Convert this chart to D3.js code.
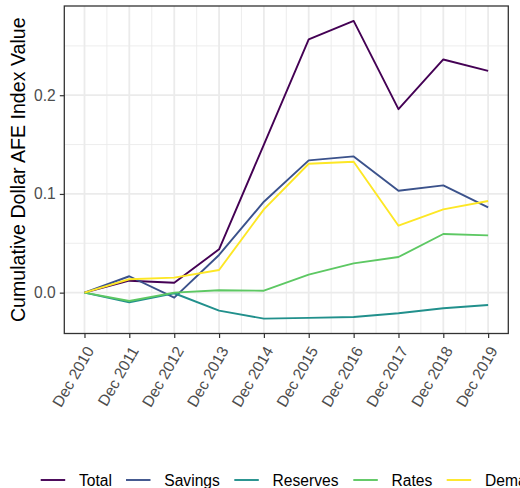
<!DOCTYPE html>
<html>
<head>
<meta charset="utf-8">
<script src="https://cdn.jsdelivr.net/npm/d3@7"></script>
<style>
  html, body { margin: 0; padding: 0; background: #fff; }
  svg { display: block; font-family: "Liberation Sans", Arial, sans-serif; }
</style>
</head>
<body>
<svg id="chart" width="520" height="488"></svg>
<script>
// Year-end labels and the cumulative index value of each component
const years = ["Dec 2010", "Dec 2011", "Dec 2012", "Dec 2013", "Dec 2014",
               "Dec 2015", "Dec 2016", "Dec 2017", "Dec 2018", "Dec 2019"];
const total    = [0, 0.0121, 0.0101, 0.0439, 0.1500, 0.2565, 0.2753, 0.1859, 0.2362, 0.2247];
const savings  = [0, 0.0166, -0.0051, 0.0382, 0.0921, 0.1340, 0.1380, 0.1032, 0.1087, 0.0864];
const reserves = [0, -0.0097, -0.0006, -0.0182, -0.0263, -0.0256, -0.0246, -0.0209, -0.0158, -0.0125];
const rates    = [0, -0.0084, 0.0000, 0.0024, 0.0020, 0.0182, 0.0297, 0.0361, 0.0594, 0.0580];
const demand   = [0, 0.0136, 0.0152, 0.0230, 0.0844, 0.1306, 0.1326, 0.0678, 0.0844, 0.0928];
const seriesNames = ["Total", "Savings", "Reserves", "Rates", "Demand"];
const yTicks = [0, 0.1, 0.2];
const yMinor = [0.05, 0.15, 0.25];

const seriesValues = [total, savings, reserves, rates, demand];
const colors = ["#440154", "#3B528B", "#21908C", "#5DC863", "#FDE725"];

const svg = d3.select("#chart");
const panel = { left: 64.3, right: 508.3, top: 6, bottom: 333.5 };

// Dates for each year end
const dates = years.map((_, i) => new Date(Date.UTC(2010 + i, 11, 1)));
const span = dates[dates.length - 1] - dates[0];
const x = d3.scaleUtc()
  .domain([new Date(+dates[0] - 0.05 * span), new Date(+dates[dates.length - 1] + 0.05 * span)])
  .range([panel.left, panel.right]);

const allVals = seriesValues.flat();
const yMin = d3.min(allVals), yMax = d3.max(allVals);
const yPad = (yMax - yMin) * 0.05;
const y = d3.scaleLinear()
  .domain([yMin - yPad, yMax + yPad])
  .range([panel.bottom, panel.top]);

// Grid
const grid = svg.append("g");
const minorX = dates.slice(0, -1).map((d, i) => new Date((+d + +dates[i + 1]) / 2));
grid.selectAll(".ymin").data(yMinor).join("line")
  .attr("x1", panel.left).attr("x2", panel.right)
  .attr("y1", d => y(d)).attr("y2", d => y(d))
  .attr("stroke", "#ebebeb").attr("stroke-width", 0.9);
grid.selectAll(".xmin").data(minorX).join("line")
  .attr("y1", panel.top).attr("y2", panel.bottom)
  .attr("x1", d => x(d)).attr("x2", d => x(d))
  .attr("stroke", "#ebebeb").attr("stroke-width", 0.9);
grid.selectAll(".ymaj").data(yTicks).join("line")
  .attr("x1", panel.left).attr("x2", panel.right)
  .attr("y1", d => y(d)).attr("y2", d => y(d))
  .attr("stroke", "#ebebeb").attr("stroke-width", 1.8);
grid.selectAll(".xmaj").data(dates).join("line")
  .attr("y1", panel.top).attr("y2", panel.bottom)
  .attr("x1", d => x(d)).attr("x2", d => x(d))
  .attr("stroke", "#ebebeb").attr("stroke-width", 1.8);

// Lines
const line = d3.line().x((d, i) => x(dates[i])).y(d => y(d));
svg.append("g").selectAll("path").data(seriesValues).join("path")
  .attr("d", d => line(d))
  .attr("fill", "none")
  .attr("stroke", (d, i) => colors[i])
  .attr("stroke-width", 1.9)
  .attr("stroke-linejoin", "round");

// Panel border
svg.append("rect")
  .attr("x", panel.left).attr("y", panel.top)
  .attr("width", panel.right - panel.left).attr("height", panel.bottom - panel.top)
  .attr("fill", "none").attr("stroke", "#333333").attr("stroke-width", 1.3);

// Y axis
const yAxis = svg.append("g")
  .attr("transform", `translate(${panel.left},0)`)
  .call(d3.axisLeft(y).tickValues(yTicks).tickFormat(d3.format(".1f")).tickSize(4.5).tickPadding(4));
yAxis.select(".domain").remove();
yAxis.selectAll(".tick line").attr("stroke", "#333333").attr("stroke-width", 1.2);
yAxis.selectAll(".tick text").attr("fill", "#4d4d4d").style("font-size", "15.6px");

// X axis
const xAxis = svg.append("g")
  .attr("transform", `translate(0,${panel.bottom})`)
  .call(d3.axisBottom(x).tickValues(dates).tickFormat((d, i) => years[i]).tickSize(4.5));
xAxis.select(".domain").remove();
xAxis.selectAll(".tick line").attr("stroke", "#333333").attr("stroke-width", 1.2);
xAxis.selectAll(".tick text")
  .attr("fill", "#4d4d4d").style("font-size", "15.6px")
  .attr("text-anchor", "end")
  .attr("dy", null).attr("y", null)
  .attr("transform", "translate(9.5,17) rotate(-60)");

// Y title
svg.append("text")
  .attr("transform", `translate(25,${(panel.top + panel.bottom) / 2}) rotate(-90)`)
  .attr("text-anchor", "middle")
  .style("font-size", "19.6px")
  .attr("fill", "#000")
  .text("Cumulative Dollar AFE Index Value");

// Legend
const legendKeyX = [40.7, 126, 234.3, 353.3, 446.7];
const legend = svg.append("g");
const items = legend.selectAll("g").data(seriesNames).join("g")
  .attr("transform", (d, i) => `translate(${legendKeyX[i]},480)`);
items.append("line")
  .attr("x1", 0).attr("x2", 24.5).attr("y1", 0).attr("y2", 0)
  .attr("stroke", (d, i) => colors[i]).attr("stroke-width", 1.9);
items.append("text")
  .attr("x", 38.3).attr("y", 5.6)
  .style("font-size", "15.6px").attr("fill", "#000")
  .text(d => d);
</script>
</body>
</html>
